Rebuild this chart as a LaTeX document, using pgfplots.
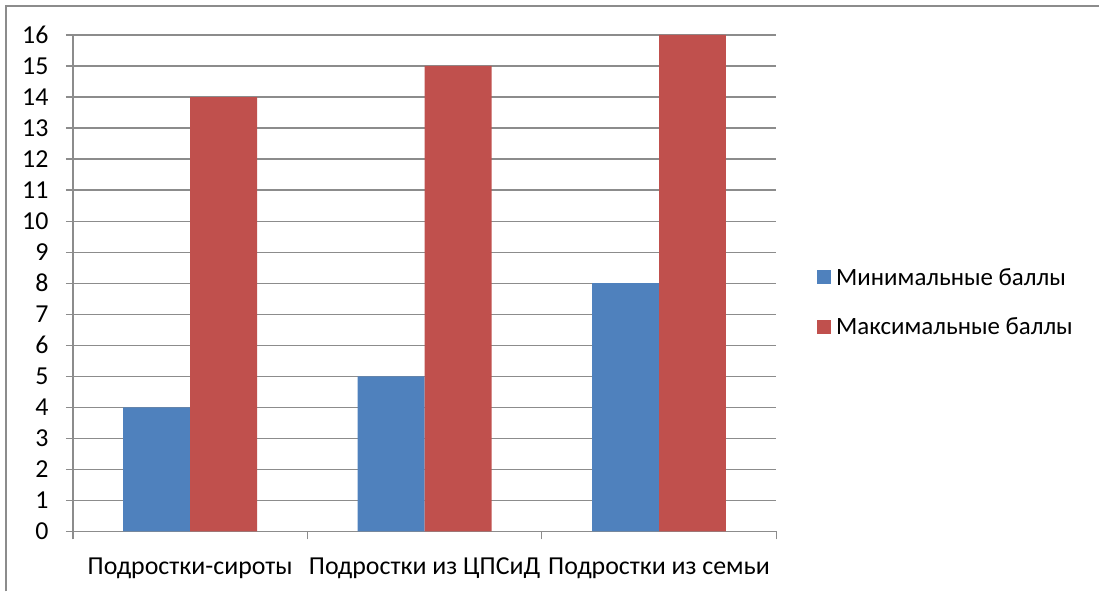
\documentclass[border=0pt]{standalone}
\usepackage{pgfplots}
\pgfplotsset{compat=1.18}
\usetikzlibrary{calc}
\usepackage{fontspec}
\setmainfont{Carlito}
\definecolor{xlblue}{HTML}{4F81BD}
\definecolor{xlred}{HTML}{C0504D}
\definecolor{xlgrid}{HTML}{8C8C8C}

\begin{document}
\begin{tikzpicture}[font=\fontsize{26}{30}\selectfont]
\begin{axis}[
    name=ax,
    scale only axis, width=704bp, height=497bp,
    ybar=0pt, bar width=67bp,
    xmin=-0.5, xmax=2.5, ymin=0, ymax=16,
    ytick={0,1,...,16},
    xtick={0,1,2},
    xticklabels={Подростки-сироты, Подростки из ЦПСиД, Подростки из семьи},
    minor xtick={-0.5,0.5,1.5,2.5},
    axis x line*=bottom, axis y line*=left,
    axis line style={xlgrid, line width=1.3bp, -},
    tick align=outside,
    major tick length=7bp, minor tick length=8bp,
    major x tick style={draw=none},
    every tick/.style={xlgrid, line width=1.3bp},
    minor x tick style={xlgrid, line width=1.3bp},
    ymajorgrids, major grid style={xlgrid, line width=1.3bp},
    /pgf/number format/assume math mode=true,
    yticklabel style={xshift=-14bp, text=black},
    xticklabel style={yshift=-16bp, text=black},
    legend style={at={(1.058,0.4618)}, anchor=west, draw=none, fill=none,
        inner sep=0pt, row sep=27bp, nodes={inner xsep=5bp},
        font=\fontsize{25}{30}\selectfont},
    legend cell align=left,
    legend image code/.code={\fill[#1] (0bp,-7bp) rectangle (14bp,7bp);},
]
\addplot[fill=xlblue, draw=none] coordinates {(0,4) (1,5) (2,8)};
\addplot[fill=xlred, draw=none] coordinates {(0,14) (1,15) (2,16)};
\legend{Минимальные баллы, Максимальные баллы}
\end{axis}
\pgfresetboundingbox
\path (ax.south west) ++(-73bp,-60bp) coordinate (bl);
\path (bl) rectangle ++(1100bp,592bp);
\draw[xlgrid, line width=2.2bp] ($(bl)+(6bp,0bp)$) |- ($(bl)+(1100bp,586bp)$);
\end{tikzpicture}
\end{document}
